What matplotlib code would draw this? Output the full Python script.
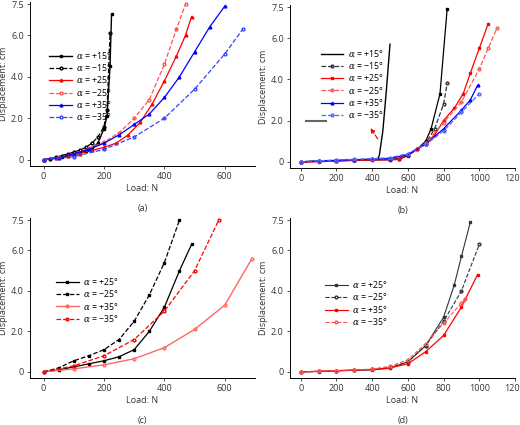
import matplotlib
matplotlib.use("Agg")
import matplotlib.pyplot as plt

plt.rcParams['font.family'] = ['Open Sans', 'DejaVu Sans']
plt.rcParams['font.size'] = 6.5
plt.rcParams['mathtext.fontset'] = 'dejavuserif'

# Panel (a)
a_p15_x = [0,20,40,60,80,100,120,140,160,180,200,210,220,225]
a_p15_y = [0,0.03,0.08,0.12,0.18,0.25,0.32,0.42,0.55,0.8,1.5,2.1,4.5,7.0]
a_m15_x = [0,20,40,60,80,100,120,140,160,180,200,210,220]
a_m15_y = [0,0.05,0.12,0.2,0.28,0.37,0.47,0.6,0.8,1.1,1.6,2.4,6.1]
a_p25_x = [0,40,80,120,160,200,240,280,320,360,400,440,470,490]
a_p25_y = [0,0.08,0.2,0.3,0.45,0.6,0.8,1.2,1.8,2.7,3.8,5.0,6.0,6.9]
a_m25_x = [0,50,100,150,200,250,300,350,400,440,470]
a_m25_y = [0,0.12,0.3,0.55,0.85,1.3,2.0,2.9,4.6,6.3,7.5]
a_p35_x = [0,50,100,150,200,250,300,350,400,450,500,550,600]
a_p35_y = [0,0.1,0.3,0.5,0.8,1.2,1.7,2.2,3.0,4.0,5.2,6.4,7.4]
a_m35_x = [0,100,200,300,400,500,600,660]
a_m35_y = [0,0.15,0.5,1.1,2.0,3.4,5.1,6.3]

# Panel (b)
b_p15_x = [0,100,200,300,400,430,440,460,480,500]
b_p15_y = [0,0.03,0.06,0.08,0.1,0.12,0.3,1.5,3.5,5.7]
b_p15b_x = [0,100,200,300,400,500,550,600,650,700,730,780,820]
b_p15b_y = [0,0.02,0.05,0.07,0.09,0.1,0.12,0.3,0.6,1.0,1.6,3.3,7.4]
b_m15_x = [0,100,200,300,400,500,550,600,650,700,750,800,820]
b_m15_y = [0,0.03,0.06,0.1,0.12,0.14,0.16,0.35,0.6,0.9,1.6,2.8,3.8]
b_p25_x = [0,100,200,300,400,500,550,600,650,700,750,800,860,910,950,1000,1050]
b_p25_y = [0,0.0,0.04,0.07,0.09,0.1,0.12,0.35,0.6,0.9,1.3,2.0,2.6,3.3,4.3,5.5,6.7]
b_m25_x = [0,100,200,300,400,500,600,700,800,900,1000,1050,1100]
b_m25_y = [0,0.03,0.06,0.1,0.12,0.15,0.35,0.9,1.9,2.9,4.5,5.5,6.5]
b_p35_x = [0,100,200,300,400,500,600,700,800,900,950,990]
b_p35_y = [0,0.04,0.07,0.1,0.13,0.16,0.35,0.85,1.6,2.5,3.0,3.7]
b_m35_x = [0,100,200,300,400,500,600,700,800,900,1000]
b_m35_y = [0,0.05,0.09,0.12,0.15,0.2,0.4,0.85,1.5,2.4,3.3]

# Panel (c)
c_p25_x = [0,50,100,150,200,250,300,350,400,450,490]
c_p25_y = [0,0.1,0.25,0.4,0.55,0.75,1.1,2.0,3.2,5.0,6.3]
c_m25_x = [0,50,100,150,200,250,300,350,400,450]
c_m25_y = [0,0.2,0.55,0.8,1.1,1.6,2.5,3.8,5.4,7.5]
c_p35_x = [0,100,200,300,400,500,600,690]
c_p35_y = [0,0.15,0.35,0.65,1.2,2.1,3.3,5.6]
c_m35_x = [0,100,200,300,400,500,580]
c_m35_y = [0,0.3,0.8,1.6,3.0,5.0,7.5]

# Panel (d)
d_p25_x = [0,100,200,300,400,500,600,700,800,860,900,950]
d_p25_y = [0,0.02,0.05,0.08,0.1,0.18,0.5,1.3,2.7,4.3,5.7,7.4]
d_m25_x = [0,100,200,300,400,500,600,700,800,900,1000]
d_m25_y = [0,0.03,0.06,0.09,0.12,0.22,0.5,1.3,2.5,4.0,6.3]
d_p35_x = [0,100,200,300,400,500,600,700,800,900,990]
d_p35_y = [0,0.03,0.06,0.09,0.12,0.2,0.4,1.0,1.8,3.2,4.8]
d_m35_x = [0,100,200,300,400,500,600,700,800,900,920]
d_m35_y = [0,0.04,0.07,0.1,0.14,0.28,0.6,1.4,2.4,3.4,3.6]

yticks = [0, 2, 4, 6, 7.5]
ylabels = ['0', '2.0', '4.0', '6.0', '7.5']

fig = plt.figure(figsize=(5.2, 4.25), dpi=100)
W, H = 520, 425
def ax_at(l, r, t, b):
    return fig.add_axes([l/W, 1-b/H, (r-l)/W, (b-t)/H])

def style(ax, xmax, xstep, xlim, label):
    ax.spines['top'].set_visible(False)
    ax.spines['right'].set_visible(False)
    ax.set_yticks(yticks); ax.set_yticklabels(ylabels)
    ax.set_xticks(range(0, xmax+1, xstep))
    ax.set_xlim(*xlim); ax.set_ylim(-0.3, 7.6)
    ax.tick_params(length=2.5, width=0.6, pad=2, labelsize=6.5, colors='#333333')
    for s in ['left','bottom']:
        ax.spines[s].set_linewidth(0.7)
    ax.set_xlabel('Load: N', fontsize=6.5, labelpad=2, color='#333333')
    ax.set_ylabel('Displacement: cm', fontsize=6.5, labelpad=2, color='#333333')
    ax.annotate(label, xy=(0.5, 0), xycoords='axes fraction', xytext=(0, -27),
                textcoords='offset points', ha='center', va='top', fontsize=6.5, color='#333333')

def leg(ax, loc):
    ax.legend(loc='upper left', bbox_to_anchor=loc, frameon=False, fontsize=6.3,
              handlelength=2.6, labelspacing=0.15, borderaxespad=0, handletextpad=0.5)

ms = 2
# (a)
ax = ax_at(30, 255, 2, 166)
ax.plot(a_p15_x, a_p15_y, '-', color='black', marker='s', ms=ms, lw=1, label=r'$\alpha$ = +15°')
ax.plot(a_m15_x, a_m15_y, '--', color='black', marker='o', mfc='none', ms=ms, lw=0.9, label=r'$\alpha$ = −15°')
ax.plot(a_p25_x, a_p25_y, '-', color='red', marker='^', ms=ms, lw=0.9, label=r'$\alpha$ = +25°')
ax.plot(a_m25_x, a_m25_y, '--', color='#ff5555', marker='o', mfc='none', ms=ms, lw=0.9, label=r'$\alpha$ = −25°')
ax.plot(a_p35_x, a_p35_y, '-', color='blue', marker='^', ms=ms, lw=0.9, label=r'$\alpha$ = +35°')
ax.plot(a_m35_x, a_m35_y, '--', color='#3344ff', marker='o', mfc='none', ms=ms, lw=0.9, label=r'$\alpha$ = −35°')
style(ax, 700, 200, (-45, 700), '(a)')
leg(ax, (0.07, 0.73))

# (b)
ax = ax_at(290, 515, 5, 168)
ax.plot(b_p15_x, b_p15_y, '-', color='black', lw=1, label=r'$\alpha$ = +15°')
ax.plot(b_p15b_x, b_p15b_y, '-', color='black', marker='s', ms=ms, lw=0.9)
ax.plot(b_m15_x, b_m15_y, '--', color='#333333', marker='o', mfc='none', ms=ms, lw=0.9, label=r'$\alpha$ = −15°')
ax.plot(b_p25_x, b_p25_y, '-', color='red', marker='s', ms=ms, lw=0.9, label=r'$\alpha$ = +25°')
ax.plot(b_m25_x, b_m25_y, '--', color='#ff5555', marker='o', mfc='none', ms=ms, lw=0.9, label=r'$\alpha$ = −25°')
ax.plot(b_p35_x, b_p35_y, '-', color='blue', marker='^', ms=ms, lw=0.9, label=r'$\alpha$ = +35°')
ax.plot(b_m35_x, b_m35_y, '--', color='#5566ff', marker='o', mfc='none', ms=ms, lw=0.9, label=r'$\alpha$ = −35°')
ax.plot([30, 140], [2.0, 2.0], '-', color='#666666', lw=1.5)
ax.annotate('', xy=(382, 1.75), xytext=(440, 1.0),
            arrowprops=dict(arrowstyle='-|>', color='red', lw=0.9, ls='--', mutation_scale=6))
style(ax, 1200, 200, (-60, 1200), '(b)')
leg(ax, (0.12, 0.76))

# (c)
ax = ax_at(30, 255, 218, 378)
ax.plot(c_p25_x, c_p25_y, '-', color='black', marker='s', ms=ms, lw=0.9, label=r'$\alpha$ = +25°')
ax.plot(c_m25_x, c_m25_y, '--', color='black', marker='s', ms=ms, lw=0.9, label=r'$\alpha$ = −25°')
ax.plot(c_p35_x, c_p35_y, '-', color='#ff6666', marker='o', mfc='none', ms=ms, lw=1, label=r'$\alpha$ = +35°')
ax.plot(c_m35_x, c_m35_y, '--', color='red', marker='o', mfc='none', ms=ms, lw=0.9, label=r'$\alpha$ = −35°')
style(ax, 700, 200, (-45, 700), '(c)')
leg(ax, (0.1, 0.66))

# (d)
ax = ax_at(290, 515, 218, 378)
ax.plot(d_p25_x, d_p25_y, '-', color='#333333', marker='s', ms=1.5, lw=0.8, label=r'$\alpha$ = +25°')
ax.plot(d_m25_x, d_m25_y, '--', color='#333333', marker='o', mfc='none', ms=ms, lw=0.8, label=r'$\alpha$ = −25°')
ax.plot(d_p35_x, d_p35_y, '-', color='red', marker='s', ms=ms, lw=0.9, label=r'$\alpha$ = +35°')
ax.plot(d_m35_x, d_m35_y, '--', color='#ff5555', marker='o', mfc='none', ms=ms, lw=0.8, label=r'$\alpha$ = −35°')
style(ax, 1200, 200, (-60, 1200), '(d)')
leg(ax, (0.14, 0.64))

fig.savefig('out.png', dpi=100)
